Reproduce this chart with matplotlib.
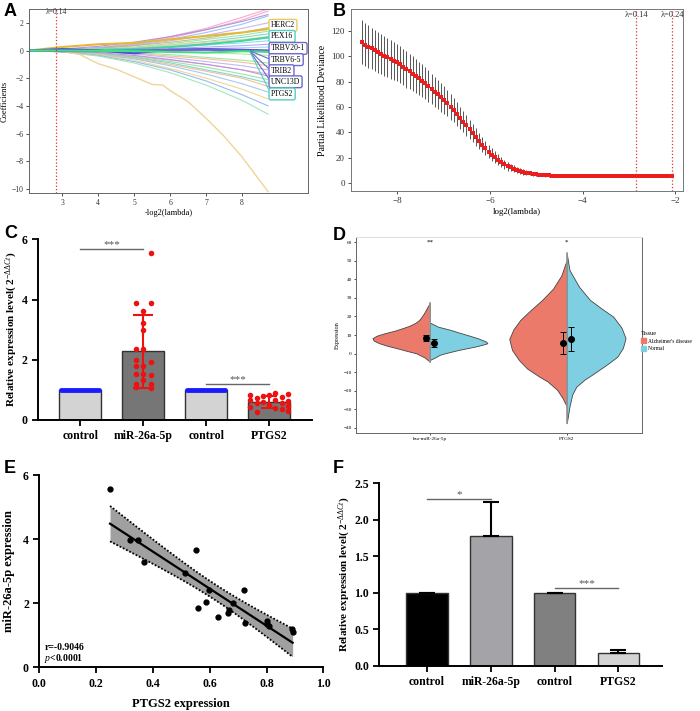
import numpy as np
import matplotlib
matplotlib.use("Agg")
import matplotlib.pyplot as plt
from matplotlib.patches import Patch

plt.rcParams['font.family'] = ['Liberation Serif', 'DejaVu Serif']
plt.rcParams['mathtext.fontset'] = 'custom'
plt.rcParams['mathtext.rm'] = 'Liberation Serif'
plt.rcParams['mathtext.it'] = 'Liberation Serif:italic'
plt.rcParams['mathtext.bf'] = 'Liberation Serif:bold'

# ---------------- data ----------------
# A: lasso coefficient paths
lasso_x = [2.08, 3.0, 4.0, 5.0, 6.0, 7.0, 8.0, 8.72]
lasso_paths = [
    [0, 0.05, 0.20, 0.50, 1.00, 1.60, 2.40, 3.00],
    [0, 0.05, 0.20, 0.45, 0.90, 1.50, 2.20, 2.85],
    [0, 0.10, 0.30, 0.60, 1.00, 1.50, 2.10, 2.60],
    [0, 0.05, 0.20, 0.40, 0.80, 1.30, 1.90, 2.50],
    [0, 0.05, 0.15, 0.35, 0.70, 1.10, 1.60, 2.00],
    [0, 0.05, 0.15, 0.35, 0.60, 0.90, 1.30, 1.65],
    [0, 0.05, 0.10, 0.25, 0.50, 0.80, 1.10, 1.40],
    [0, 0.00, 0.05, 0.20, 0.40, 0.65, 0.95, 1.20],
    [0, 0.05, 0.10, 0.20, 0.40, 0.60, 0.80, 1.00],
    [0, 0.00, 0.05, 0.15, 0.30, 0.50, 0.70, 0.90],
    [0, 0.00, 0.05, 0.15, 0.25, 0.40, 0.55, 0.70],
    [0, 0.00, 0.00, 0.10, 0.15, 0.25, 0.35, 0.45],
    [0, 0.00, 0.00, 0.05, 0.10, 0.15, 0.20, 0.25],
    [0, 0.00, 0.00, -0.05, -0.10, -0.15, -0.25, -0.35],
    [0, 0.00, -0.05, -0.15, -0.30, -0.50, -0.70, -0.90],
    [0, 0.00, -0.10, -0.20, -0.40, -0.60, -0.85, -1.10],
    [0, 0.00, -0.10, -0.25, -0.50, -0.80, -1.10, -1.40],
    [0, -0.05, -0.20, -0.40, -0.70, -1.00, -1.40, -1.70],
    [0, -0.05, -0.15, -0.35, -0.65, -1.00, -1.40, -1.85],
    [0, -0.05, -0.20, -0.45, -0.80, -1.20, -1.70, -2.10],
    [0, -0.05, -0.20, -0.50, -0.90, -1.40, -1.90, -2.35],
    [0, -0.05, -0.25, -0.55, -1.00, -1.50, -2.00, -2.60],
    [0, -0.05, -0.30, -0.60, -1.10, -1.70, -2.40, -3.00],
    [0, -0.10, -0.30, -0.70, -1.30, -2.00, -2.80, -3.50],
    [0, -0.10, -0.35, -0.80, -1.40, -2.20, -3.20, -4.00],
    [0, -0.10, -0.40, -0.90, -1.60, -2.50, -3.60, -4.60],
]
lasso_colors = ['#f4a3c8', '#f7a1c0', '#a98ae0', '#8fc0f0', '#c6b0f0', '#b8b88a',
                '#96e39e', '#6fd8c8', '#f2d387', '#f5a8d0', '#86dcef', '#b0a0f0',
                '#9ad0f5', '#a6e8a0', '#9ae39c', '#f6bb8c', '#c2aef0', '#f4a6c6',
                '#b090e0', '#90e0a0', '#70d6c6', '#f6b88a', '#98c4f2', '#f0d28a',
                '#8cb4f0', '#9ae4b4']
bold_paths = [
    [0, 0.25, 0.45, 0.55, 0.80, 1.05, 1.30, 1.55],
    [0, 0.00, 0.05, 0.10, 0.25, 0.45, 0.70, 0.95],
    [0, 0.10, 0.00, -0.20, 0.05, 0.10, 0.05, 0.00],
    [0, -0.05, -0.05, 0.00, 0.05, 0.05, 0.00, -0.05],
    [0, 0.00, -0.02, -0.05, -0.10, -0.15, -0.05, -0.10],
]
bold_colors = ['#e5b83a', '#3fd6a8', '#4848d8', '#7c5cd6', '#40e080']
big_x = [2.08, 3.0, 3.5, 4.0, 4.5, 5.0, 5.5, 5.8, 6.0, 6.5, 7.0, 7.5, 8.0, 8.72]
big_y = [0, -0.05, -0.3, -0.95, -1.35, -1.9, -2.45, -2.5, -2.9, -3.7, -4.9, -6.2, -7.7, -10.2]
genes = ['HERC2', 'PEX16', 'TRBV20-1', 'TRBV6-5', 'TRIB2', 'UNC13D', 'PTGS2']
gene_colors = ['#e8c860', '#50d0c0', '#6a6ad0', '#6a6ad0', '#6a6ad0', '#6a6ad0', '#50d0c0']
lambda_min, lambda_1se = 0.14, 0.24

# B: cross-validation deviance
cv_dev = [111, 109, 107.5, 106, 104.5, 103, 101.5, 100, 99, 97.5,
          96, 95, 93.5, 91.5, 89.5, 88, 86, 84.5, 82.5, 80.5,
          78.5, 76.5, 74, 72, 70, 67.5, 65.5, 63, 60, 57.5,
          54.5, 51.5, 48.5, 45.5, 42.5, 39.5, 36.5, 33.5, 30.5, 27.5,
          25, 22.5, 20.5, 18.5, 16.5, 15, 13.5, 12.5, 11.5, 10.5,
          9.7, 9.0, 8.4, 7.9, 7.5, 7.1, 6.8, 6.6, 6.4, 6.2,
          6.1, 6.0, 5.9, 5.9, 5.8, 5.8, 5.8, 5.7, 5.7, 5.7,
          5.7, 5.7, 5.6, 5.6, 5.6, 5.6, 5.6, 5.6, 5.6, 5.6,
          5.6, 5.6, 5.6, 5.6, 5.6, 5.6, 5.6, 5.6, 5.6, 5.6,
          5.6, 5.6, 5.6, 5.6, 5.6, 5.6, 5.6, 5.6, 5.6]
cv_err = [17, 16.8, 16.6, 16.4, 16.2, 16, 15.8, 15.6, 15.4, 15.2,
          15.0, 14.8, 14.6, 14.4, 14.2, 14, 13.8, 13.5, 13.2, 12.9,
          12.6, 12.3, 12, 11.7, 11.4, 11.1, 10.8, 10.4, 10, 9.6,
          9.2, 8.8, 8.4, 8, 7.6, 7.2, 6.8, 6.4, 6, 5.6,
          5.2, 4.9, 4.6, 4.3, 4.0, 3.7, 3.4, 3.1, 2.8, 2.5,
          2.3, 2.1, 1.9, 1.7, 1.5, 1.4, 1.3, 1.2, 1.1, 1.0,
          0.9, 0.9, 0.8, 0.8, 0.8, 0.8, 0.8, 0.8, 0.8, 0.8,
          0.8, 0.8, 0.8, 0.8, 0.8, 0.8, 0.8, 0.8, 0.8, 0.8,
          0.8, 0.8, 0.8, 0.8, 0.8, 0.8, 0.8, 0.8, 0.8, 0.8,
          0.8, 0.8, 0.8, 0.8, 0.8, 0.8, 0.8, 0.8, 0.8]
log_lambda = np.linspace(-8.76, -2.07, len(cv_dev))

# C: qPCR in samples
groups = ['control', 'miR-26a-5p', 'control', 'PTGS2']
mir_vals = [5.54, 3.9, 3.9, 3.62, 3.22, 2.98, 2.35, 2.35, 1.98, 1.93,
            1.78, 1.78, 1.52, 1.52, 1.48, 1.34, 1.2, 1.18, 1.08, 1.06]
mir_jit = [0.13, -0.12, 0.12, 0, 0, 0, -0.12, 0, -0.12, 0.12,
           -0.12, 0, -0.12, 0, 0.12, 0, -0.12, 0.12, -0.12, 0.12]
ptgs_vals = [0.9, 0.85, 0.84, 0.82, 0.8, 0.78, 0.72, 0.66, 0.65, 0.62,
             0.6, 0.58, 0.55, 0.5, 0.47, 0.44, 0.4, 0.36, 0.3, 0.25]
ptgs_jit = [0.1, 0.3, -0.3, 0.0, -0.1, 0.2, -0.2, -0.3, 0.1, 0.3,
            -0.1, 0.2, -0.2, 0.0, 0.3, -0.3, 0.1, 0.2, 0.3, -0.2]
ctrl_vals = [1.0] * 20

# D: split violins (density half-widths)
vio_labels = ['hsa-miR-26a-5p', 'PTGS2']
mir_ad_y = [-4.3, -2, 0.2, 1.5, 2.9, 4.2, 5.6, 7, 8.3, 9.6, 11.0, 12.3, 13.7, 15, 16.4, 18, 19.9, 21.5, 23.5, 25.5, 27.5]
mir_ad_w = [0, 0.04, 0.10, 0.17, 0.24, 0.31, 0.37, 0.41, 0.42, 0.39, 0.33, 0.26, 0.20, 0.15, 0.11, 0.08, 0.06, 0.045, 0.03, 0.015, 0]
mir_n_y = [-3.4, -2, -0.7, 0.2, 1.1, 2.0, 2.9, 3.8, 4.7, 5.6, 6.5, 7.4, 8.3, 9.2, 10.1, 11.4, 12.8, 14.5, 15.6, 16.7]
mir_n_w = [0, 0.04, 0.07, 0.11, 0.16, 0.21, 0.27, 0.33, 0.38, 0.42, 0.41, 0.38, 0.35, 0.31, 0.27, 0.21, 0.15, 0.06, 0.03, 0]
ptgs_ad_y = [-28.5, -24, -19.5, -15, -12.4, -8, -3.4, 2, 7.9, 13, 18.1, 23, 28.9, 35, 42, 50.5]
ptgs_ad_w = [0.0, 0.03, 0.07, 0.14, 0.2, 0.29, 0.35, 0.40, 0.42, 0.39, 0.34, 0.27, 0.18, 0.10, 0.04, 0.0]
ptgs_n_y = [-37.5, -28.5, -22, -17.8, -14, -10.6, -5, -1.6, 3, 8.3, 14, 19.9, 24, 28.9, 36, 45, 54]
ptgs_n_w = [0, 0.02, 0.04, 0.07, 0.13, 0.2, 0.31, 0.37, 0.41, 0.43, 0.40, 0.34, 0.26, 0.17, 0.09, 0.02, 0]
vio_mean_ad = [8.6, 5.9]
vio_err_ad = [1.6, 6.0]
vio_mean_n = [5.6, 7.9]
vio_err_n = [2.3, 6.3]
vio_sig = ['**', '*']

# E: correlation
ptgs_expr = [0.249, 0.319, 0.349, 0.369, 0.513, 0.552, 0.560, 0.586, 0.599, 0.630,
             0.663, 0.668, 0.681, 0.722, 0.725, 0.800, 0.800, 0.810, 0.889, 0.892]
mir_expr = [5.55, 3.96, 3.96, 3.29, 2.95, 3.67, 1.84, 2.05, 2.40, 1.56,
            1.70, 1.78, 2.00, 2.41, 1.39, 1.44, 1.35, 1.28, 1.21, 1.11]

# F: qPCR in cells
cell_vals = [1.0, 1.78, 1.0, 0.17]
cell_err = [0, 0.46, 0, 0.05]
cell_colors = ['#000000', '#a3a3a8', '#808080', '#d4d4d4']

# ---------------- figure ----------------
fig = plt.figure(figsize=(7, 7.11), dpi=100)
W, H = 700.0, 711.0


def add_ax(l, r, t, b):
    return fig.add_axes([l / W, 1 - b / H, (r - l) / W, (b - t) / H])


def panel(x, y, s):
    fig.text(x / W, 1 - y / H, s, fontsize=13, fontweight='bold',
             family='Liberation Sans', va='top', ha='left')


# ---- A ----
axA = add_ax(29, 308, 9, 193)
for p, c in zip(lasso_paths, lasso_colors):
    axA.plot(lasso_x, p, color=c, lw=0.8, alpha=0.9)
axA.plot(big_x, big_y, color='#f0d49a', lw=1.0)
for p, c in zip(bold_paths, bold_colors):
    axA.plot(lasso_x, p, color=c, lw=1.5)
xl = -np.log2(lambda_min)
axA.axvline(xl, color='#e03030', ls=':', lw=0.9)
axA.text(xl, 2.75, 'λ=0.14', fontsize=5.5, ha='center', va='center', color='#333')
label_y = [1.82, 1.02, 0.15, -0.66, -1.46, -2.26, -3.14]
tips = [(8.72, bold_paths[0][-1]), (8.72, bold_paths[1][-1]), (8.72, 0.0),
        (8.2, 0.0), (8.2, 0.0), (8.2, 0.0), (8.2, 0.0)]
for g, c, ly, tp in zip(genes, gene_colors, label_y, tips):
    axA.annotate(g, xy=tp, xytext=(8.8, ly), fontsize=5.5, va='center', ha='left',
                 bbox=dict(boxstyle='round,pad=0.25', fc='white', ec=c, lw=1),
                 arrowprops=dict(arrowstyle='-', color=c, lw=0.8, relpos=(0, 0.5),
                                 shrinkA=0, shrinkB=0))
axA.set_xlim(2.08, 9.83)
axA.set_ylim(-10.3, 3.0)
axA.set_xticks([3, 4, 5, 6, 7, 8])
axA.set_yticks([-10, -8, -6, -4, -2, 0, 2])
axA.tick_params(labelsize=5.5, length=2, width=0.6, colors='#333', pad=2)
for s in axA.spines.values():
    s.set_color('#666')
    s.set_linewidth(0.7)
axA.set_xlabel('-log2(lambda)', fontsize=6, labelpad=2)
axA.set_ylabel('Coefficients', fontsize=6, labelpad=2)
panel(4, 3, 'A')

# ---- B ----
axB = add_ax(351, 683, 9, 191)
axB.errorbar(log_lambda, cv_dev, yerr=cv_err, fmt='none', ecolor='#555', elinewidth=0.7)
axB.plot(log_lambda, cv_dev, 's', color='#ee1c1c', ms=2.2, mew=0)
for lam in (lambda_min, lambda_1se):
    axB.axvline(np.log2(lam), color='#e03030', ls=':', lw=0.9)
    axB.text(np.log2(lam), 132, 'λ=%.2f' % lam, fontsize=6, ha='center', va='center', color='#333')
axB.set_xlim(-9.0, -1.83)
axB.set_ylim(-6, 137)
axB.set_xticks([-8, -6, -4, -2])
axB.set_yticks([0, 20, 40, 60, 80, 100, 120])
axB.tick_params(labelsize=6.5, length=2.5, width=0.6, colors='#333', pad=2)
for s in axB.spines.values():
    s.set_color('#777')
    s.set_linewidth(0.7)
axB.set_xlabel('log2(lambda)', fontsize=6.5, labelpad=2)
axB.set_ylabel('Partial Likelihood Deviance', fontsize=7, labelpad=3)
panel(333, 3, 'B')

# ---- C ----
axC = add_ax(38, 312, 239.3, 420)
pos = np.arange(4)
c_means = [np.mean(ctrl_vals), np.mean(mir_vals), np.mean(ctrl_vals), np.mean(ptgs_vals)]
axC.bar(pos, c_means, width=0.66, color=['#d3d3d3', '#767676', '#d3d3d3', '#767676'],
        edgecolor='#333', lw=1, zorder=1)
ctrl_jit = np.linspace(-0.3, 0.3, len(ctrl_vals))
for p in (0, 2):
    axC.plot(p + ctrl_jit, ctrl_vals, 'o', color='#1a1aff', ms=3.5, mew=0, zorder=3)
axC.plot(1 + np.array(mir_jit), mir_vals, 'o', color='#ee1111', ms=4, mew=0, zorder=3)
axC.plot(3 + np.array(ptgs_jit), ptgs_vals, 'o', color='#ee1111', ms=4, mew=0, zorder=3)
axC.errorbar([1], [np.mean(mir_vals)], yerr=[np.std(mir_vals, ddof=1)], fmt='none',
             ecolor='#ee1111', elinewidth=1.5, capsize=7, capthick=1.5, zorder=4)
axC.errorbar([3], [np.mean(ptgs_vals)], yerr=[np.std(ptgs_vals, ddof=1)], fmt='none',
             ecolor='#ee1111', elinewidth=1.5, capsize=6, capthick=1.5, zorder=4)
axC.plot([0, 1], [5.68, 5.68], color='#666', lw=1)
axC.text(0.5, 5.68, '***', ha='center', va='bottom', fontsize=8, color='#555')
axC.plot([2, 3], [1.18, 1.18], color='#666', lw=1)
axC.text(2.5, 1.18, '***', ha='center', va='bottom', fontsize=8, color='#555')
axC.set_xlim(-0.67, 3.68)
axC.set_ylim(0, 6)
axC.set_xticks(pos)
axC.set_xticklabels(groups)
axC.set_yticks([0, 2, 4, 6])
axC.tick_params(labelsize=8.5, width=1.3, length=4)
for t in axC.get_xticklabels() + axC.get_yticklabels():
    t.set_fontweight('bold')
axC.spines[['top', 'right']].set_visible(False)
axC.spines[['left', 'bottom']].set_linewidth(1.4)
axC.set_ylabel(r'Relative expression level( 2$^{-\Delta\Delta Ct}$)', fontsize=8,
               fontweight='bold', labelpad=1)
panel(4, 225, 'C')

# ---- D ----
axD = add_ax(356, 642, 237, 433.3)
red, blue = '#ec7a6b', '#7ecfe2'
halves = [(0, mir_ad_y, mir_ad_w, mir_n_y, mir_n_w), (1, ptgs_ad_y, ptgs_ad_w, ptgs_n_y, ptgs_n_w)]
for p, ya, wa, yn, wn in halves:
    axD.fill_betweenx(ya, p - np.array(wa), p, color=red, ec='#444', lw=0.6)
    axD.fill_betweenx(yn, p, p + np.array(wn), color=blue, ec='#444', lw=0.6)
    axD.plot([p, p], [min(ya[0], yn[0]), max(ya[-1], yn[-1])], color='#999', lw=1.2)
axD.errorbar(np.arange(2) - 0.03, vio_mean_ad, yerr=vio_err_ad, fmt='o', color='black',
             ms=4, elinewidth=0.7, capsize=2, capthick=0.7)
axD.errorbar(np.arange(2) + 0.03, vio_mean_n, yerr=vio_err_n, fmt='o', color='black',
             ms=4, elinewidth=0.7, capsize=2, capthick=0.7)
for p, s in zip(range(2), vio_sig):
    axD.text(p, 59.8, s, ha='center', va='center', fontsize=5)
axD.set_xlim(-0.54, 1.55)
axD.set_ylim(-42.9, 62.8)
axD.set_xticks([0, 1])
axD.set_xticklabels(vio_labels)
axD.set_yticks(np.arange(-40, 61, 10))
axD.tick_params(labelsize=3.8, length=1.5, width=0.5, pad=1.5)
for s in axD.spines.values():
    s.set_color('#666')
    s.set_linewidth(0.7)
axD.spines['top'].set_color('#ddd')
axD.set_ylabel('Expression', fontsize=4.5, labelpad=3)
axD.legend(handles=[Patch(color=red, label="Alzheimer's disease"), Patch(color=blue, label='Normal')],
           title='Tissue', fontsize=4, title_fontsize=4.5, frameon=False,
           loc='center left', bbox_to_anchor=(0.995, 0.47), handlelength=0.8,
           handleheight=0.8, handletextpad=0.4, alignment='left', borderaxespad=0,
           borderpad=0.1)
panel(333, 227, 'D')

# ---- E ----
axE = add_ax(39.3, 323.3, 475, 667.3)
xe = np.array(ptgs_expr)
ye = np.array(mir_expr)
slope, icpt = np.polyfit(xe, ye, 1)
xs = np.linspace(xe.min(), xe.max(), 60)
resid = ye - (slope * xe + icpt)
s_err = np.sqrt(np.sum(resid ** 2) / (len(xe) - 2))
half = 2.101 * s_err * np.sqrt(1 / len(xe) + (xs - xe.mean()) ** 2 / np.sum((xe - xe.mean()) ** 2))
fit = slope * xs + icpt
axE.fill_between(xs, fit - half, fit + half, color='#a0a0a0', lw=0)
axE.plot(xs, fit + half, color='black', ls=(0, (1, 1)), lw=1.3)
axE.plot(xs, fit - half, color='black', ls=(0, (1, 1)), lw=1.3)
axE.plot(xs, fit, color='black', lw=1.6)
axE.plot(xe, ye, 'o', color='black', ms=3.5)
axE.text(0.018, 0.55, 'r=-0.9046', fontsize=7, fontweight='bold')
axE.text(0.018, 0.2, r'$\mathit{p}$<0.0001', fontsize=7, fontweight='bold')
axE.set_xlim(0, 1)
axE.set_ylim(0, 6)
axE.set_xticks([0.0, 0.2, 0.4, 0.6, 0.8, 1.0])
axE.set_xticklabels(['0.0', '0.2', '0.4', '0.6', '0.8', '1.0'])
axE.set_yticks([0, 2, 4, 6])
axE.tick_params(labelsize=8.5, width=1.3, length=4)
for t in axE.get_xticklabels() + axE.get_yticklabels():
    t.set_fontweight('bold')
axE.spines[['top', 'right']].set_visible(False)
axE.spines[['left', 'bottom']].set_linewidth(1.4)
axE.set_xlabel('PTGS2 expression', fontsize=9, fontweight='bold', labelpad=6)
axE.set_ylabel('miR-26a-5p expression', fontsize=9, fontweight='bold', labelpad=6)
panel(4, 460, 'E')

# ---- F ----
axF = add_ax(379.3, 661.7, 483.3, 665.7)
axF.bar(pos, cell_vals, width=0.65, color=cell_colors, edgecolor='#333', lw=1)
axF.errorbar(pos, cell_vals, yerr=[[0] * 4, cell_err], fmt='none', ecolor='black',
             elinewidth=1.5, capsize=6, capthick=1.5)
axF.plot([0, 1], [2.29, 2.29], color='#666', lw=1)
axF.text(0.5, 2.29, '*', ha='center', va='bottom', fontsize=8, color='#555')
axF.plot([2, 3], [1.06, 1.06], color='#666', lw=1)
axF.text(2.5, 1.06, '***', ha='center', va='bottom', fontsize=8, color='#555')
axF.set_xlim(-0.75, 3.68)
axF.set_ylim(0, 2.5)
axF.set_xticks(pos)
axF.set_xticklabels(groups)
axF.set_yticks([0, 0.5, 1.0, 1.5, 2.0, 2.5])
axF.set_yticklabels(['0.0', '0.5', '1.0', '1.5', '2.0', '2.5'])
axF.tick_params(labelsize=8.5, width=1.3, length=4)
for t in axF.get_xticklabels() + axF.get_yticklabels():
    t.set_fontweight('bold')
axF.spines[['top', 'right']].set_visible(False)
axF.spines[['left', 'bottom']].set_linewidth(1.4)
axF.set_ylabel(r'Relative expression level( 2$^{-\Delta\Delta Ct}$)', fontsize=8,
               fontweight='bold', labelpad=1)
panel(333, 460, 'F')

fig.savefig('out.png', dpi=100)
